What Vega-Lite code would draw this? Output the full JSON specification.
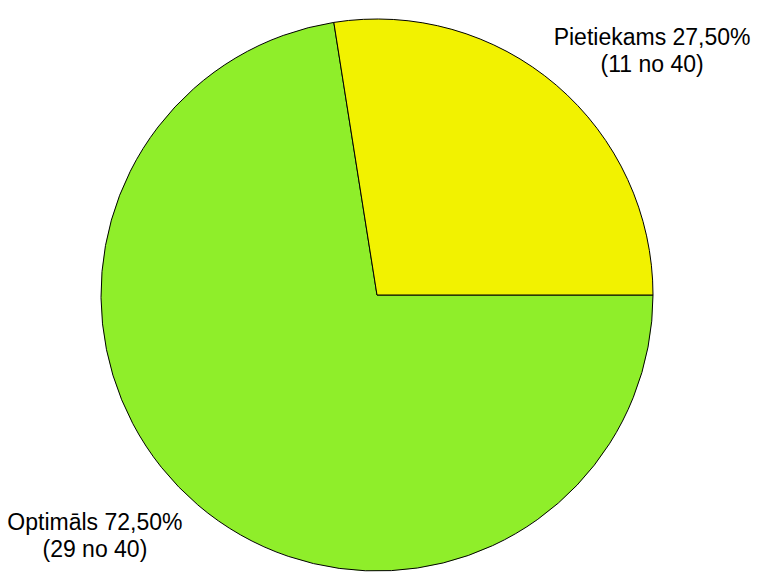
{
  "$schema": "https://vega.github.io/schema/vega-lite/v6.json",
  "autosize": {"type": "fit", "contains": "padding"},
  "width": 761,
  "height": 574,
  "padding": {"left": 0, "right": 7, "top": 16, "bottom": 0},
  "background": "#ffffff",
  "config": {"view": {"stroke": null}},
  "data": {
    "values": [
      {"category": "Optimāls", "count": 29, "label": "Optimāls 72,50%\n(29 no 40)"},
      {"category": "Pietiekams", "count": 11, "label": "Pietiekams 27,50%\n(11 no 40)"}
    ]
  },
  "encoding": {
    "theta": {"field": "count", "type": "quantitative", "stack": true, "scale": {"range": [1.5708, 7.854]}},
    "order": {"field": "category", "sort": "ascending"}
  },
  "layer": [
    {
      "mark": {"type": "arc", "outerRadius": 276, "stroke": "#000000", "strokeWidth": 1},
      "encoding": {
        "color": {
          "field": "category",
          "type": "nominal",
          "scale": {"domain": ["Optimāls", "Pietiekams"], "range": ["#8fee2a", "#f2f200"]},
          "legend": null
        }
      }
    },
    {
      "mark": {
        "type": "text",
        "radius": 362,
        "font": "Liberation Sans",
        "fontSize": 23,
        "lineBreak": "\n",
        "lineHeight": 27,
        "align": "center",
        "baseline": "middle",
        "color": "#000000",
        "dx": {"expr": "datum.category == 'Pietiekams' ? 40 : -47"},
        "dy": {"expr": "datum.category == 'Pietiekams' ? 18 : -47"}
      },
      "encoding": {
        "text": {"field": "label", "type": "nominal"}
      }
    }
  ]
}
